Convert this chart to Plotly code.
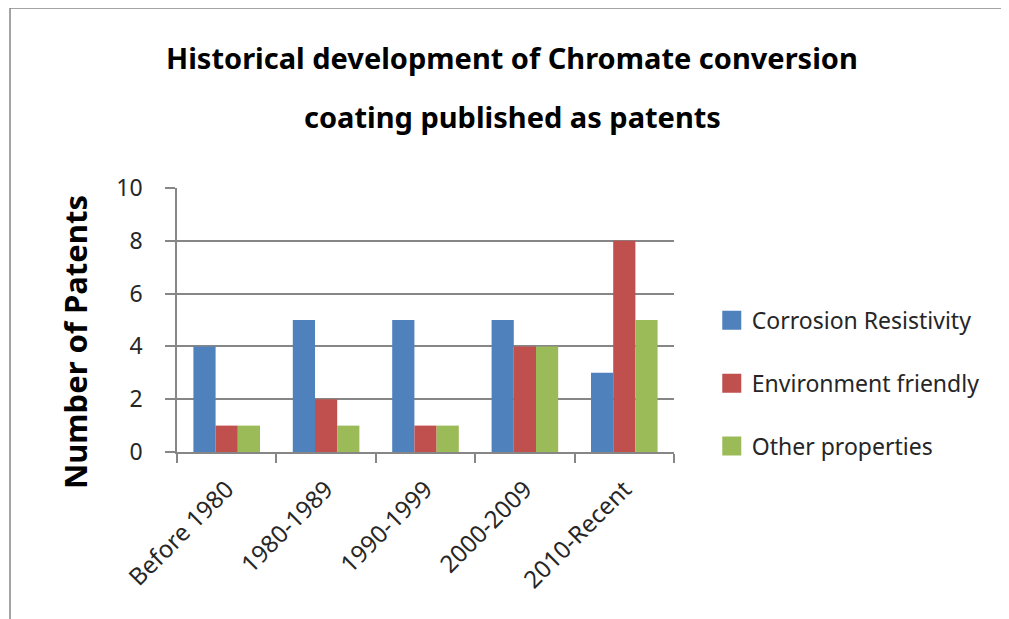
import plotly.graph_objects as go

# Données
periods = ["Before 1980", "1980-1989", "1990-1999", "2000-2009", "2010-Recent"]
corrosion = [4, 5, 5, 5, 3]
environment = [1, 2, 1, 4, 8]
other = [1, 1, 1, 4, 5]

series = [
    ("Corrosion Resistivity", corrosion, "#4F81BD"),
    ("Environment friendly", environment, "#C0504D"),
    ("Other properties", other, "#9BBB59"),
]

title_lines = ["Historical development of Chromate conversion", "coating published as patents"]

FONT = "Noto Sans"
GRID = "#868686"

fig = go.Figure()
for name, vals, color in series:
    fig.add_trace(go.Bar(
        x=periods, y=vals, name=name, marker_color=color,
        marker_line_width=0, legendgroup=name, showlegend=False,
    ))
    # entrée de légende avec un carré plus grand
    fig.add_trace(go.Scatter(
        x=[None], y=[None], mode="markers", name=name, legendgroup=name,
        marker=dict(symbol="square", size=16, color=color, line=dict(color=color, width=3)),
    ))

# la page ajoute une marge de 8 px autour du graphique
fig.update_layout(
    width=1009, height=619,
    margin=dict(l=169, r=343, t=180, b=175),
    paper_bgcolor="white", plot_bgcolor="white",
    barmode="group", bargap=0.33, bargroupgap=0,
    font=dict(family=FONT, color="#000000"),
    showlegend=True,
    legend=dict(
        x=1.076, xanchor="left", y=0.26, yanchor="middle",
        font=dict(size=23, family=FONT, color="#262626"),
        traceorder="grouped", tracegroupgap=30,
        itemsizing="trace",
    ),
    xaxis=dict(
        showline=True, linecolor=GRID, linewidth=1.5,
        ticks="outside", tickson="boundaries", ticklen=9, tickcolor=GRID, tickwidth=1.5,
        tickangle=-45, tickfont=dict(size=24, family=FONT, color="#262626"),
        ticklabelstandoff=12,
        showgrid=False,
    ),
    yaxis=dict(
        range=[0, 10], dtick=2,
        showline=True, linecolor=GRID, linewidth=1.5,
        ticks="outside", ticklen=10, tickcolor=GRID, tickwidth=1.5,
        showgrid=True, gridcolor=GRID, gridwidth=1.5,
        zeroline=False,
        tickfont=dict(size=23, family=FONT, color="#262626"),
        ticklabelstandoff=18,
    ),
)

# Titre de l'axe Y (placé plus bas que le centre de la zone)
fig.add_annotation(
    text="<b>Number of Patents</b>", xref="paper", yref="paper",
    x=(75 - 177) / 497, y=(452 - 342) / 264, textangle=-90,
    xanchor="center", yanchor="middle", showarrow=False,
    font=dict(size=31, family=FONT, color="#000000"),
)

# Titre sur deux lignes
for i, line in enumerate(title_lines):
    fig.add_annotation(
        text=f"<b>{line}</b>", xref="paper", yref="paper",
        x=(512 - 177) / 497, y=(452 - (57 + 60 * i)) / 264,
        xanchor="center", yanchor="middle", showarrow=False,
        font=dict(size=29, family=FONT, color="#000000"),
    )

# Cadre extérieur du graphique
fig.add_shape(
    type="rect", xref="paper", yref="paper",
    x0=(10 - 177) / 497, x1=(1005 - 177) / 497, y0=(452 - 640) / 264, y1=(452 - 8) / 264,
    line=dict(color="#878787", width=1.5), fillcolor="rgba(0,0,0,0)", layer="below",
)

fig.write_html("out.html")
